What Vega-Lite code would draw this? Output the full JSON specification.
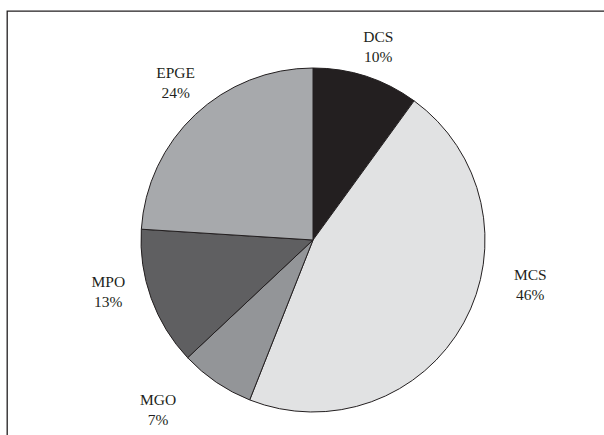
{
  "$schema": "https://vega.github.io/schema/vega-lite/v6.json",
  "autosize": {"type": "none"},
  "padding": {"left": 7, "top": 11, "right": 0, "bottom": 0},
  "width": 612,
  "height": 458,
  "background": "white",
  "config": {
    "view": {"stroke": "#231f20", "strokeWidth": 1.3},
    "text": {"font": "Liberation Serif", "fontSize": 15.5, "lineBreak": "\n", "lineHeight": 20, "color": "#231f20", "baseline": "middle", "align": "center"}
  },
  "data": {
    "values": [
      {"segment": "DCS", "pct": 10, "order": 1},
      {"segment": "MCS", "pct": 46, "order": 2},
      {"segment": "MGO", "pct": 7, "order": 3},
      {"segment": "MPO", "pct": 13, "order": 4},
      {"segment": "EPGE", "pct": 24, "order": 5}
    ]
  },
  "transform": [
    {"calculate": "datum.segment + '\\n' + datum.pct + '%'", "as": "label"},
    {"stack": "pct", "groupby": [], "sort": [{"field": "order"}], "as": ["cum0", "cum1"]},
    {"calculate": "(datum.cum0 + datum.cum1) / 2", "as": "mid"}
  ],
  "encoding": {
    "theta": {"field": "mid", "type": "quantitative", "scale": {"domain": [0, 100]}}
  },
  "layer": [
    {
      "mark": {"type": "point", "opacity": 0},
      "encoding": {
        "x": {"datum": 0, "type": "quantitative", "axis": null},
        "y": {"datum": 0, "type": "quantitative", "axis": null},
        "theta": null
      }
    },
    {
      "mark": {"type": "arc", "outerRadius": 172, "stroke": "#231f20", "strokeWidth": 1},
      "encoding": {
        "theta": {"field": "cum0", "type": "quantitative", "scale": {"domain": [0, 100]}},
        "theta2": {"field": "cum1"},
        "color": {
          "field": "segment",
          "type": "nominal",
          "scale": {
            "domain": ["DCS", "MCS", "MGO", "MPO", "EPGE"],
            "range": ["#231f20", "#e1e2e3", "#939598", "#5f5f61", "#a7a9ac"]
          },
          "legend": null
        }
      }
    },
    {
      "transform": [{"filter": "datum.segment == 'DCS'"}],
      "mark": {"type": "text", "radius": 208, "dx": 1, "dy": -5},
      "encoding": {"text": {"field": "label"}}
    },
    {
      "transform": [{"filter": "datum.segment == 'MCS'"}],
      "mark": {"type": "text", "radius": 208, "dx": 35, "dy": -65},
      "encoding": {"text": {"field": "label"}}
    },
    {
      "transform": [{"filter": "datum.segment == 'MGO'"}],
      "mark": {"type": "text", "radius": 208, "dx": -38, "dy": -12},
      "encoding": {"text": {"field": "label"}}
    },
    {
      "transform": [{"filter": "datum.segment == 'MPO'"}],
      "mark": {"type": "text", "radius": 208, "dx": -9, "dy": -28},
      "encoding": {"text": {"field": "label"}}
    },
    {
      "transform": [{"filter": "datum.segment == 'EPGE'"}],
      "mark": {"type": "text", "radius": 208, "dx": 5, "dy": -15},
      "encoding": {"text": {"field": "label"}}
    }
  ]
}
